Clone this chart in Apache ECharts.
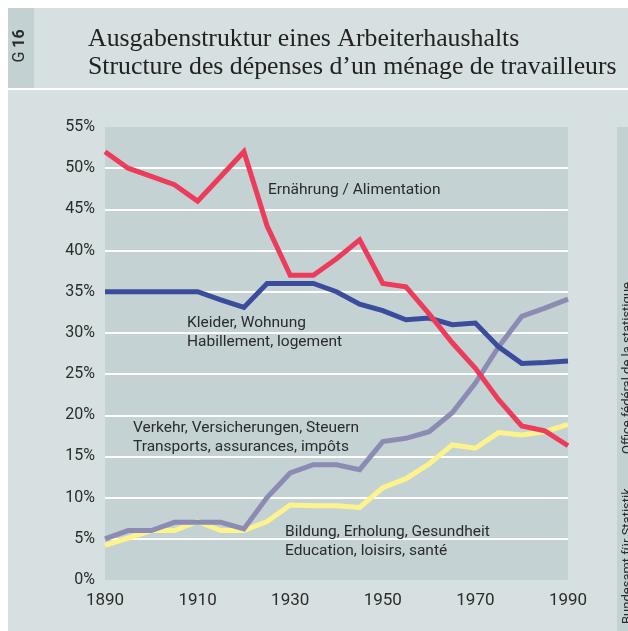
<!DOCTYPE html>
<html>
<head>
<meta charset="utf-8">
<script src="https://cdn.jsdelivr.net/npm/echarts@6/dist/echarts.min.js"></script>
<style>
html,body{margin:0;padding:0;background:#ffffff;}
#chart{width:628px;height:631px;}
</style>
</head>
<body>
<div id="chart"></div>
<script>
// ---- data ----
const years = [1890,1895,1900,1905,1910,1915,1920,1925,1930,1935,1940,1945,1950,1955,1960,1965,1970,1975,1980,1985,1990];
const food      = [52,50,49,48,46,49,52,43,37,37,39,41.3,36,35.6,32.3,28.8,25.7,21.9,18.7,18.1,16.3];
const housing   = [35,35,35,35,35,34,33.1,36,36,36,35,33.5,32.7,31.6,31.8,31.0,31.2,28.3,26.3,26.4,26.6];
const transport = [5,6,6,7,7,7,6.2,10,13,14,14,13.4,16.8,17.2,18.0,20.3,23.9,28.3,32,33,34.1];
const education = [4.2,5.1,6,6,7.1,6,6,7.1,9.1,9,9,8.8,11.2,12.3,14.1,16.4,16.0,17.9,17.6,18.0,18.9];
const xTicks = [1890,1910,1930,1950,1970,1990];
const yTicks = [0,5,10,15,20,25,30,35,40,45,50,55];
const titleLines = ['Ausgabenstruktur eines Arbeiterhaushalts','Structure des dépenses d’un ménage de travailleurs'];
const labelFood = ['Ernährung / Alimentation'];
const labelHousing = ['Kleider, Wohnung','Habillement, logement'];
const labelTransport = ['Verkehr, Versicherungen, Steuern','Transports, assurances, impôts'];
const labelEducation = ['Bildung, Erholung, Gesundheit','Education, loisirs, santé'];
const sourceDe = 'Bundesamt für Statistik';
const sourceFr = 'Office fédéral de la statistique';

const pairs = arr => years.map((y,i)=>[y,arr[i]]);
const chart = echarts.init(document.getElementById('chart'), null, {renderer:'canvas'});
const sans = 'Roboto';
const txtColor = '#2b2b2b';

function lineSeries(name, arr, color){
  return {name, type:'line', data:pairs(arr), symbol:'none', smooth:false,
    lineStyle:{width:5, color:color, join:'miter'}, z:3, silent:true};
}
function annot(lines, x, y){
  return {type:'text', left:x, top:y, z:10, style:{text:lines.join('\n'), font:'15.5px '+sans, fill:txtColor, lineHeight:19}};
}

chart.setOption({
  backgroundColor:'#d6e0e1',
  animation:false,
  grid:{left:105, right:60, top:127, bottom:51, show:true, backgroundColor:'#c4d2d3', borderWidth:0},
  xAxis:{type:'value', min:1890, max:1990, interval:20,
    axisLine:{show:false}, axisTick:{show:false}, splitLine:{show:false},
    axisLabel:{margin:12, fontFamily:sans, fontSize:17, color:txtColor,
      formatter: v => String(v)}},
  yAxis:{type:'value', min:0, max:55, interval:5,
    axisLine:{show:false}, axisTick:{show:false},
    splitLine:{show:true, showMinLine:false, showMaxLine:false, lineStyle:{color:'#ffffff', width:2}},
    axisLabel:{margin:10, fontFamily:sans, fontSize:16, color:txtColor, formatter:'{value}%'}},
  series:[
    lineSeries('Bildung', education, '#fdf38c'),
    lineSeries('Verkehr', transport, '#8c8bb3'),
    lineSeries('Kleider', housing, '#3c4c9c'),
    lineSeries('Ernährung', food, '#ec3b5b')
  ],
  graphic:[
    {type:'rect', left:0, top:0, z:0, shape:{width:628, height:8}, style:{fill:'#ffffff'}},
    {type:'rect', left:0, top:0, z:0, shape:{width:8, height:631}, style:{fill:'#ffffff'}},
    {type:'rect', left:8, top:88, z:0, shape:{width:620, height:2}, style:{fill:'#ffffff'}},
    {type:'rect', left:8, top:8, z:0, shape:{width:26, height:80}, style:{fill:'#c3d1d2'}},
    {type:'text', x:20, y:46, rotation:Math.PI/2, z:5, style:{
      text:'{r|G }{b|16}', align:'center', verticalAlign:'middle',
      rich:{r:{font:'16px '+sans, fill:txtColor}, b:{font:'bold 16px '+sans, fill:txtColor}}}},
    {type:'text', left:88, top:25, z:5, style:{text:titleLines.join('\n'), font:'25.8px "Liberation Serif"', fill:'#222222', lineHeight:28}},
    {type:'rect', left:617, top:127, z:0, shape:{width:11, height:504}, style:{fill:'#c3d1d2'}},
    {type:'text', x:628, y:624, rotation:Math.PI/2, z:5, style:{text:sourceDe, font:'13px '+sans, fill:txtColor, align:'left', verticalAlign:'middle'}},
    {type:'text', x:628, y:454, rotation:Math.PI/2, z:5, style:{text:sourceFr, font:'13px '+sans, fill:txtColor, align:'left', verticalAlign:'middle'}},
    annot(labelFood, 268, 181),
    annot(labelHousing, 187, 314),
    annot(labelTransport, 133, 419),
    annot(labelEducation, 285, 523)
  ]
});
</script>
</body>
</html>
